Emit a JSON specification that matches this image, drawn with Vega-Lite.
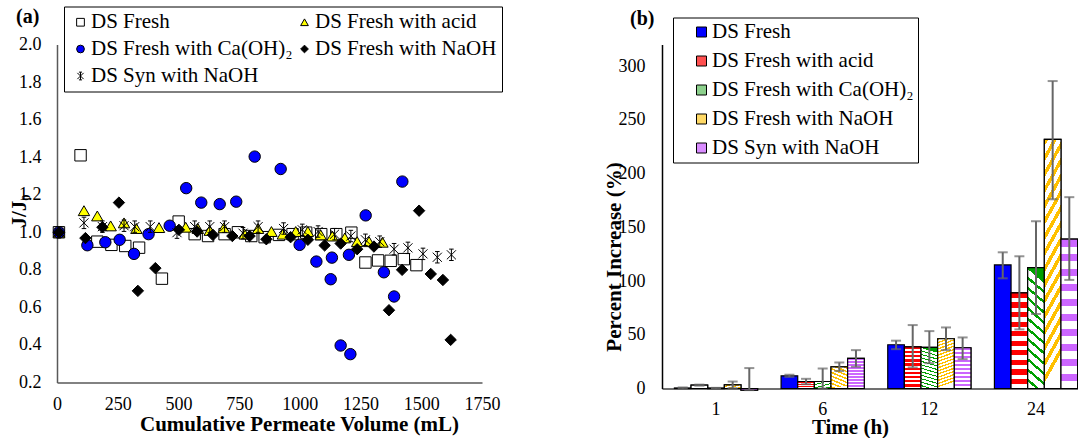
{
  "$schema": "https://vega.github.io/schema/vega-lite/v6.json",
  "background": "white",
  "padding": {"left": 8, "top": 5.5, "right": 0, "bottom": 0},
  "spacing": 100,
  "config": {
    "font": "Liberation Serif",
    "view": {"stroke": null},
    "axis": {"grid": false, "ticks": false, "labelFont": "Liberation Serif", "labelFontSize": 18, "labelColor": "black", "titleFont": "Liberation Serif", "titleFontSize": 21, "titleFontWeight": "bold", "titleColor": "black"},
    "legend": {"labelFont": "Liberation Serif", "labelFontSize": 21, "labelColor": "black", "labelLimit": 500, "strokeColor": "black"}
  },
  "resolve": {"scale": {"x": "independent", "y": "independent", "fill": "independent", "shape": "independent", "stroke": "independent", "xOffset": "independent"}, "legend": {"fill": "independent", "shape": "independent", "stroke": "independent"}},
  "hconcat": [
    {
      "width": 425,
      "height": 338,
      "title": {"text": "(a)", "anchor": "start", "frame": "group", "offset": -21, "dx": -41, "fontSize": 20, "fontWeight": "bold", "font": "Liberation Serif", "color": "black"},
      "data": {"values": [
        {"v": 8, "r": 1.0, "s": "DS Fresh"}, {"v": 97, "r": 1.41, "s": "DS Fresh"}, {"v": 166, "r": 0.95, "s": "DS Fresh"}, {"v": 224, "r": 0.933, "s": "DS Fresh"}, {"v": 281, "r": 0.927, "s": "DS Fresh"}, {"v": 338, "r": 0.918, "s": "DS Fresh"}, {"v": 432, "r": 0.753, "s": "DS Fresh"}, {"v": 501, "r": 1.057, "s": "DS Fresh"}, {"v": 567, "r": 0.99, "s": "DS Fresh"}, {"v": 622, "r": 0.98, "s": "DS Fresh"}, {"v": 690, "r": 0.99, "s": "DS Fresh"}, {"v": 745, "r": 1.0, "s": "DS Fresh"}, {"v": 800, "r": 0.98, "s": "DS Fresh"}, {"v": 855, "r": 0.974, "s": "DS Fresh"}, {"v": 914, "r": 0.986, "s": "DS Fresh"}, {"v": 970, "r": 0.99, "s": "DS Fresh"}, {"v": 1026, "r": 0.998, "s": "DS Fresh"}, {"v": 1088, "r": 0.99, "s": "DS Fresh"}, {"v": 1150, "r": 0.99, "s": "DS Fresh"}, {"v": 1212, "r": 0.998, "s": "DS Fresh"}, {"v": 1270, "r": 0.839, "s": "DS Fresh"}, {"v": 1322, "r": 0.85, "s": "DS Fresh"}, {"v": 1374, "r": 0.848, "s": "DS Fresh"}, {"v": 1428, "r": 0.857, "s": "DS Fresh"}, {"v": 1480, "r": 0.825, "s": "DS Fresh"},
        {"v": 8, "r": 1.0, "s": "DS Fresh with acid"}, {"v": 111, "r": 1.115, "s": "DS Fresh with acid"}, {"v": 166, "r": 1.087, "s": "DS Fresh with acid"}, {"v": 221, "r": 1.034, "s": "DS Fresh with acid"}, {"v": 276, "r": 1.05, "s": "DS Fresh with acid"}, {"v": 327, "r": 1.02, "s": "DS Fresh with acid"}, {"v": 420, "r": 1.025, "s": "DS Fresh with acid"}, {"v": 530, "r": 1.027, "s": "DS Fresh with acid"}, {"v": 580, "r": 1.02, "s": "DS Fresh with acid"}, {"v": 629, "r": 1.01, "s": "DS Fresh with acid"}, {"v": 687, "r": 1.024, "s": "DS Fresh with acid"}, {"v": 773, "r": 0.99, "s": "DS Fresh with acid"}, {"v": 828, "r": 1.02, "s": "DS Fresh with acid"}, {"v": 883, "r": 1.004, "s": "DS Fresh with acid"}, {"v": 930, "r": 0.99, "s": "DS Fresh with acid"}, {"v": 983, "r": 1.004, "s": "DS Fresh with acid"}, {"v": 1033, "r": 1.004, "s": "DS Fresh with acid"}, {"v": 1086, "r": 0.986, "s": "DS Fresh with acid"}, {"v": 1134, "r": 0.98, "s": "DS Fresh with acid"}, {"v": 1185, "r": 0.97, "s": "DS Fresh with acid"}, {"v": 1236, "r": 0.95, "s": "DS Fresh with acid"}, {"v": 1285, "r": 0.95, "s": "DS Fresh with acid"}, {"v": 1340, "r": 0.947, "s": "DS Fresh with acid"},
        {"v": 8, "r": 1.0, "s": "DS Fresh with Ca(OH)₂"}, {"v": 125, "r": 0.931, "s": "DS Fresh with Ca(OH)₂"}, {"v": 199, "r": 0.947, "s": "DS Fresh with Ca(OH)₂"}, {"v": 258, "r": 0.96, "s": "DS Fresh with Ca(OH)₂"}, {"v": 317, "r": 0.885, "s": "DS Fresh with Ca(OH)₂"}, {"v": 377, "r": 0.99, "s": "DS Fresh with Ca(OH)₂"}, {"v": 464, "r": 1.035, "s": "DS Fresh with Ca(OH)₂"}, {"v": 532, "r": 1.235, "s": "DS Fresh with Ca(OH)₂"}, {"v": 594, "r": 1.158, "s": "DS Fresh with Ca(OH)₂"}, {"v": 670, "r": 1.15, "s": "DS Fresh with Ca(OH)₂"}, {"v": 738, "r": 1.163, "s": "DS Fresh with Ca(OH)₂"}, {"v": 814, "r": 1.403, "s": "DS Fresh with Ca(OH)₂"}, {"v": 921, "r": 1.337, "s": "DS Fresh with Ca(OH)₂"}, {"v": 999, "r": 0.933, "s": "DS Fresh with Ca(OH)₂"}, {"v": 1068, "r": 0.844, "s": "DS Fresh with Ca(OH)₂"}, {"v": 1127, "r": 0.75, "s": "DS Fresh with Ca(OH)₂"}, {"v": 1132, "r": 0.865, "s": "DS Fresh with Ca(OH)₂"}, {"v": 1168, "r": 0.397, "s": "DS Fresh with Ca(OH)₂"}, {"v": 1202, "r": 0.88, "s": "DS Fresh with Ca(OH)₂"}, {"v": 1208, "r": 0.351, "s": "DS Fresh with Ca(OH)₂"}, {"v": 1271, "r": 1.09, "s": "DS Fresh with Ca(OH)₂"}, {"v": 1346, "r": 0.787, "s": "DS Fresh with Ca(OH)₂"}, {"v": 1388, "r": 0.658, "s": "DS Fresh with Ca(OH)₂"}, {"v": 1422, "r": 1.27, "s": "DS Fresh with Ca(OH)₂"},
        {"v": 8, "r": 1.0, "s": "DS Fresh with NaOH"}, {"v": 117, "r": 0.969, "s": "DS Fresh with NaOH"}, {"v": 187, "r": 1.027, "s": "DS Fresh with NaOH"}, {"v": 255, "r": 1.158, "s": "DS Fresh with NaOH"}, {"v": 333, "r": 0.688, "s": "DS Fresh with NaOH"}, {"v": 405, "r": 0.809, "s": "DS Fresh with NaOH"}, {"v": 502, "r": 1.013, "s": "DS Fresh with NaOH"}, {"v": 577, "r": 1.004, "s": "DS Fresh with NaOH"}, {"v": 642, "r": 0.986, "s": "DS Fresh with NaOH"}, {"v": 722, "r": 0.98, "s": "DS Fresh with NaOH"}, {"v": 793, "r": 0.98, "s": "DS Fresh with NaOH"}, {"v": 862, "r": 0.963, "s": "DS Fresh with NaOH"}, {"v": 962, "r": 0.974, "s": "DS Fresh with NaOH"}, {"v": 1033, "r": 0.96, "s": "DS Fresh with NaOH"}, {"v": 1102, "r": 0.93, "s": "DS Fresh with NaOH"}, {"v": 1168, "r": 0.94, "s": "DS Fresh with NaOH"}, {"v": 1236, "r": 0.91, "s": "DS Fresh with NaOH"}, {"v": 1305, "r": 0.924, "s": "DS Fresh with NaOH"}, {"v": 1367, "r": 0.585, "s": "DS Fresh with NaOH"}, {"v": 1421, "r": 0.8, "s": "DS Fresh with NaOH"}, {"v": 1491, "r": 1.115, "s": "DS Fresh with NaOH"}, {"v": 1539, "r": 0.778, "s": "DS Fresh with NaOH"}, {"v": 1589, "r": 0.746, "s": "DS Fresh with NaOH"}, {"v": 1621, "r": 0.427, "s": "DS Fresh with NaOH"},
        {"v": 8, "r": 1.0, "s": "DS Syn with NaOH"}, {"v": 111, "r": 1.05, "s": "DS Syn with NaOH"}, {"v": 187, "r": 1.03, "s": "DS Syn with NaOH"}, {"v": 276, "r": 1.035, "s": "DS Syn with NaOH"}, {"v": 320, "r": 1.03, "s": "DS Syn with NaOH"}, {"v": 384, "r": 1.03, "s": "DS Syn with NaOH"}, {"v": 494, "r": 0.998, "s": "DS Syn with NaOH"}, {"v": 567, "r": 1.03, "s": "DS Syn with NaOH"}, {"v": 629, "r": 1.03, "s": "DS Syn with NaOH"}, {"v": 690, "r": 1.03, "s": "DS Syn with NaOH"}, {"v": 766, "r": 0.995, "s": "DS Syn with NaOH"}, {"v": 828, "r": 1.03, "s": "DS Syn with NaOH"}, {"v": 933, "r": 1.02, "s": "DS Syn with NaOH"}, {"v": 1010, "r": 1.013, "s": "DS Syn with NaOH"}, {"v": 1075, "r": 1.004, "s": "DS Syn with NaOH"}, {"v": 1143, "r": 0.99, "s": "DS Syn with NaOH"}, {"v": 1210, "r": 0.98, "s": "DS Syn with NaOH"}, {"v": 1270, "r": 0.96, "s": "DS Syn with NaOH"}, {"v": 1329, "r": 0.95, "s": "DS Syn with NaOH"}, {"v": 1388, "r": 0.91, "s": "DS Syn with NaOH"}, {"v": 1445, "r": 0.917, "s": "DS Syn with NaOH"}, {"v": 1507, "r": 0.885, "s": "DS Syn with NaOH"}, {"v": 1566, "r": 0.867, "s": "DS Syn with NaOH"}, {"v": 1624, "r": 0.88, "s": "DS Syn with NaOH"}
      ]},
      "mark": {"type": "point", "filled": false, "strokeWidth": 1, "size": 130, "opacity": 1},
      "encoding": {
        "x": {"field": "v", "type": "quantitative", "scale": {"domain": [0, 1750], "nice": false, "zero": false},
              "axis": {"values": [0, 250, 500, 750, 1000, 1250, 1500, 1750], "format": "d", "labelOverlap": false, "labelFlush": false, "title": "Cumulative Permeate Volume (mL)", "labelPadding": 12.5, "domainColor": "#595959", "domainWidth": 1.5, "titleX": 242, "titleY": 48, "titleBaseline": "alphabetic"}},
        "y": {"field": "r", "type": "quantitative", "scale": {"domain": [0.2, 2.0], "nice": false, "zero": false},
              "axis": {"values": [0.2, 0.4, 0.6, 0.8, 1.0, 1.2, 1.4, 1.6, 1.8, 2.0], "format": ".1f", "labelOverlap": false, "labelFlush": false, "title": "J/J₀", "labelPadding": 16, "domainColor": "#595959", "domainWidth": 1.5, "titleX": -32, "titleY": 166, "titleBaseline": "alphabetic"}},
        "fill": {"field": "s", "type": "nominal",
                 "scale": {"domain": ["DS Fresh", "DS Fresh with acid", "DS Fresh with Ca(OH)₂", "DS Fresh with NaOH", "DS Syn with NaOH"], "range": ["#FFFFFF", "#FFFF00", "#0000FF", "#000000", "#000000"]},
                 "legend": null},
        "stroke": {"field": "s", "type": "nominal",
                   "scale": {"domain": ["DS Fresh", "DS Fresh with acid", "DS Fresh with Ca(OH)₂", "DS Fresh with NaOH", "DS Syn with NaOH"], "range": ["#000000", "#000000", "#000000", "#000000", "#000000"]},
                   "legend": null},
        "shape": {"field": "s", "type": "nominal",
                  "scale": {"domain": ["DS Fresh", "DS Fresh with acid", "DS Fresh with Ca(OH)₂", "DS Fresh with NaOH", "DS Syn with NaOH"], "range": ["square", "triangle-up", "circle", "diamond", "M-0.8,-0.8L0.8,0.8M-0.8,0.8L0.8,-0.8M0,-1L0,1M-0.4,-1L0.4,-1M-0.4,1L0.4,1"]},
                  "legend": {"title": null, "orient": "none", "legendX": 7, "legendY": -38, "columns": 2, "direction": "horizontal", "columnPadding": 0, "rowPadding": 5, "padding": 5, "symbolOffset": 1, "labelOffset": 0, "symbolSize": 60, "symbolStrokeColor": "black", "symbolStrokeWidth": 1, "labelFont": "Liberation Serif", "labelFontSize": 21, "strokeColor": "black",
                             "encode": {"symbols": {"stroke": {"value": "black"}, "strokeWidth": {"value": 1}}}}}
      }
    },
    {
      "width": 416,
      "height": 344,
      "title": {"text": "(b)", "anchor": "start", "frame": "group", "offset": -12, "dx": -32, "fontSize": 20, "fontWeight": "bold", "font": "Liberation Serif", "color": "black"},
      "data": {"values": [
        {"t": "1", "s": "DS Fresh", "p": 0.5, "lo": 0, "hi": 1},
        {"t": "1", "s": "DS Fresh with acid", "p": 3.1, "lo": 2.6, "hi": 3.6},
        {"t": "1", "s": "DS Fresh with Ca(OH)₂", "p": 0.3, "lo": 0, "hi": 0.6},
        {"t": "1", "s": "DS Fresh with NaOH", "p": 3.4, "lo": 0.3, "hi": 6.5},
        {"t": "1", "s": "DS Syn with NaOH", "p": -1.5, "lo": -1.5, "hi": 19},
        {"t": "6", "s": "DS Fresh", "p": 11.8, "lo": 10.8, "hi": 12.8},
        {"t": "6", "s": "DS Fresh with acid", "p": 6.5, "lo": 4, "hi": 9},
        {"t": "6", "s": "DS Fresh with Ca(OH)₂", "p": 6.5, "lo": 0, "hi": 18.6},
        {"t": "6", "s": "DS Fresh with NaOH", "p": 20.2, "lo": 16.2, "hi": 24.2},
        {"t": "6", "s": "DS Syn with NaOH", "p": 28, "lo": 20.2, "hi": 35.7},
        {"t": "12", "s": "DS Fresh", "p": 40.7, "lo": 36.6, "hi": 44.5},
        {"t": "12", "s": "DS Fresh with acid", "p": 38.8, "lo": 19.6, "hi": 59},
        {"t": "12", "s": "DS Fresh with Ca(OH)₂", "p": 38.2, "lo": 23.6, "hi": 53.4},
        {"t": "12", "s": "DS Fresh with NaOH", "p": 46.3, "lo": 35.7, "hi": 56.8},
        {"t": "12", "s": "DS Syn with NaOH", "p": 37.9, "lo": 27.3, "hi": 47.5},
        {"t": "24", "s": "DS Fresh", "p": 115, "lo": 102.5, "hi": 126.7},
        {"t": "24", "s": "DS Fresh with acid", "p": 89, "lo": 55, "hi": 123},
        {"t": "24", "s": "DS Fresh with Ca(OH)₂", "p": 112.4, "lo": 69.3, "hi": 155.6},
        {"t": "24", "s": "DS Fresh with NaOH", "p": 231.7, "lo": 176, "hi": 286},
        {"t": "24", "s": "DS Syn with NaOH", "p": 139, "lo": 101, "hi": 178}
      ]},
      "encoding": {
        "x": {"field": "t", "type": "ordinal", "sort": ["1", "6", "12", "24"],
              "scale": {"paddingInner": 0.22, "paddingOuter": 0.06, "align": 0.97},
              "axis": {"title": "Time (h)", "labelAngle": 0, "labelPadding": 12, "domainColor": "#404040", "domainWidth": 1.5, "titleX": 188, "titleY": 44.5, "titleBaseline": "alphabetic"}},
        "xOffset": {"field": "s", "type": "nominal", "scale": {"domain": ["DS Fresh", "DS Fresh with acid", "DS Fresh with Ca(OH)₂", "DS Fresh with NaOH", "DS Syn with NaOH"]}},
        "y": {"field": "p", "type": "quantitative", "scale": {"domain": [0, 320], "nice": false},
              "axis": {"values": [0, 50, 100, 150, 200, 250, 300], "title": "Percent Increase (%)", "labelPadding": 17, "domainColor": "black", "domainWidth": 1.5, "titleX": -42, "titleY": 212, "titleBaseline": "alphabetic"}}
      },
      "layer": [
        {
          "mark": {"type": "bar", "stroke": "black", "strokeWidth": 1.2},
          "encoding": {
            "fill": {"field": "s", "type": "nominal",
                     "scale": {"domain": ["DS Fresh", "DS Fresh with acid", "DS Fresh with Ca(OH)₂", "DS Fresh with NaOH", "DS Syn with NaOH"],
                               "range": ["#0000FF", "#FF5050", "#8CD08C", "#FFD966", "#D98CFF"]},
                     "legend": {"title": null, "orient": "none", "legendX": 11, "legendY": -27, "symbolType": "square", "symbolSize": 100, "symbolStrokeColor": "black", "symbolStrokeWidth": 1, "padding": 4, "symbolOffset": 14, "labelOffset": 0, "rowPadding": 7, "labelFont": "Liberation Serif", "labelFontSize": 21, "strokeColor": "black"}}
          }
        },
        {
          "transform": [{"filter": "datum.s === 'DS Fresh with acid'"}],
          "mark": {"type": "bar", "stroke": "black", "strokeWidth": 1.2,
                   "fill": {"gradient": "linear", "x1": 0, "y1": 0, "x2": 0, "y2": 1, "stops": [
                     {"offset": 0, "color": "#FF0000"}, {"offset": 0.055, "color": "#FF0000"}, {"offset": 0.055, "color": "#FFFFFF"}, {"offset": 0.1, "color": "#FFFFFF"},
                     {"offset": 0.1, "color": "#FF0000"}, {"offset": 0.155, "color": "#FF0000"}, {"offset": 0.155, "color": "#FFFFFF"}, {"offset": 0.2, "color": "#FFFFFF"},
                     {"offset": 0.2, "color": "#FF0000"}, {"offset": 0.255, "color": "#FF0000"}, {"offset": 0.255, "color": "#FFFFFF"}, {"offset": 0.3, "color": "#FFFFFF"},
                     {"offset": 0.3, "color": "#FF0000"}, {"offset": 0.355, "color": "#FF0000"}, {"offset": 0.355, "color": "#FFFFFF"}, {"offset": 0.4, "color": "#FFFFFF"},
                     {"offset": 0.4, "color": "#FF0000"}, {"offset": 0.455, "color": "#FF0000"}, {"offset": 0.455, "color": "#FFFFFF"}, {"offset": 0.5, "color": "#FFFFFF"},
                     {"offset": 0.5, "color": "#FF0000"}, {"offset": 0.555, "color": "#FF0000"}, {"offset": 0.555, "color": "#FFFFFF"}, {"offset": 0.6, "color": "#FFFFFF"},
                     {"offset": 0.6, "color": "#FF0000"}, {"offset": 0.655, "color": "#FF0000"}, {"offset": 0.655, "color": "#FFFFFF"}, {"offset": 0.7, "color": "#FFFFFF"},
                     {"offset": 0.7, "color": "#FF0000"}, {"offset": 0.755, "color": "#FF0000"}, {"offset": 0.755, "color": "#FFFFFF"}, {"offset": 0.8, "color": "#FFFFFF"},
                     {"offset": 0.8, "color": "#FF0000"}, {"offset": 0.855, "color": "#FF0000"}, {"offset": 0.855, "color": "#FFFFFF"}, {"offset": 0.9, "color": "#FFFFFF"},
                     {"offset": 0.9, "color": "#FF0000"}, {"offset": 0.955, "color": "#FF0000"}, {"offset": 0.955, "color": "#FFFFFF"}, {"offset": 1, "color": "#FFFFFF"}
                   ]}},
          "encoding": {}
        },
        {
          "transform": [{"filter": "datum.s === 'DS Fresh with Ca(OH)₂'"}],
          "mark": {"type": "bar", "stroke": "black", "strokeWidth": 1.2,
                   "fill": {"gradient": "linear", "x1": 0.12, "y1": 0, "x2": 0, "y2": 1, "stops": [
                     {"offset": 0, "color": "#00A000"}, {"offset": 0.025, "color": "#00A000"}, {"offset": 0.025, "color": "#FFFFFF"}, {"offset": 0.0833, "color": "#FFFFFF"},
                     {"offset": 0.0833, "color": "#00A000"}, {"offset": 0.1083, "color": "#00A000"}, {"offset": 0.1083, "color": "#FFFFFF"}, {"offset": 0.1667, "color": "#FFFFFF"},
                     {"offset": 0.1667, "color": "#00A000"}, {"offset": 0.1917, "color": "#00A000"}, {"offset": 0.1917, "color": "#FFFFFF"}, {"offset": 0.25, "color": "#FFFFFF"},
                     {"offset": 0.25, "color": "#00A000"}, {"offset": 0.275, "color": "#00A000"}, {"offset": 0.275, "color": "#FFFFFF"}, {"offset": 0.3333, "color": "#FFFFFF"},
                     {"offset": 0.3333, "color": "#00A000"}, {"offset": 0.3583, "color": "#00A000"}, {"offset": 0.3583, "color": "#FFFFFF"}, {"offset": 0.4167, "color": "#FFFFFF"},
                     {"offset": 0.4167, "color": "#00A000"}, {"offset": 0.4417, "color": "#00A000"}, {"offset": 0.4417, "color": "#FFFFFF"}, {"offset": 0.5, "color": "#FFFFFF"},
                     {"offset": 0.5, "color": "#00A000"}, {"offset": 0.525, "color": "#00A000"}, {"offset": 0.525, "color": "#FFFFFF"}, {"offset": 0.5833, "color": "#FFFFFF"},
                     {"offset": 0.5833, "color": "#00A000"}, {"offset": 0.6083, "color": "#00A000"}, {"offset": 0.6083, "color": "#FFFFFF"}, {"offset": 0.6667, "color": "#FFFFFF"},
                     {"offset": 0.6667, "color": "#00A000"}, {"offset": 0.6917, "color": "#00A000"}, {"offset": 0.6917, "color": "#FFFFFF"}, {"offset": 0.75, "color": "#FFFFFF"},
                     {"offset": 0.75, "color": "#00A000"}, {"offset": 0.775, "color": "#00A000"}, {"offset": 0.775, "color": "#FFFFFF"}, {"offset": 0.8333, "color": "#FFFFFF"},
                     {"offset": 0.8333, "color": "#00A000"}, {"offset": 0.8583, "color": "#00A000"}, {"offset": 0.8583, "color": "#FFFFFF"}, {"offset": 0.9167, "color": "#FFFFFF"},
                     {"offset": 0.9167, "color": "#00A000"}, {"offset": 0.9417, "color": "#00A000"}, {"offset": 0.9417, "color": "#FFFFFF"}, {"offset": 1, "color": "#FFFFFF"}
                   ]}},
          "encoding": {}
        },
        {
          "transform": [{"filter": "datum.s === 'DS Fresh with NaOH'"}],
          "mark": {"type": "bar", "stroke": "black", "strokeWidth": 1.2,
                   "fill": {"gradient": "linear", "x1": 0, "y1": 0, "x2": 0.12, "y2": 1, "stops": [
                     {"offset": 0, "color": "#FFC000"}, {"offset": 0.028, "color": "#FFC000"}, {"offset": 0.028, "color": "#FFFFFF"}, {"offset": 0.0625, "color": "#FFFFFF"},
                     {"offset": 0.0625, "color": "#FFC000"}, {"offset": 0.0905, "color": "#FFC000"}, {"offset": 0.0905, "color": "#FFFFFF"}, {"offset": 0.125, "color": "#FFFFFF"},
                     {"offset": 0.125, "color": "#FFC000"}, {"offset": 0.153, "color": "#FFC000"}, {"offset": 0.153, "color": "#FFFFFF"}, {"offset": 0.1875, "color": "#FFFFFF"},
                     {"offset": 0.1875, "color": "#FFC000"}, {"offset": 0.2155, "color": "#FFC000"}, {"offset": 0.2155, "color": "#FFFFFF"}, {"offset": 0.25, "color": "#FFFFFF"},
                     {"offset": 0.25, "color": "#FFC000"}, {"offset": 0.278, "color": "#FFC000"}, {"offset": 0.278, "color": "#FFFFFF"}, {"offset": 0.3125, "color": "#FFFFFF"},
                     {"offset": 0.3125, "color": "#FFC000"}, {"offset": 0.3405, "color": "#FFC000"}, {"offset": 0.3405, "color": "#FFFFFF"}, {"offset": 0.375, "color": "#FFFFFF"},
                     {"offset": 0.375, "color": "#FFC000"}, {"offset": 0.403, "color": "#FFC000"}, {"offset": 0.403, "color": "#FFFFFF"}, {"offset": 0.4375, "color": "#FFFFFF"},
                     {"offset": 0.4375, "color": "#FFC000"}, {"offset": 0.4655, "color": "#FFC000"}, {"offset": 0.4655, "color": "#FFFFFF"}, {"offset": 0.5, "color": "#FFFFFF"},
                     {"offset": 0.5, "color": "#FFC000"}, {"offset": 0.528, "color": "#FFC000"}, {"offset": 0.528, "color": "#FFFFFF"}, {"offset": 0.5625, "color": "#FFFFFF"},
                     {"offset": 0.5625, "color": "#FFC000"}, {"offset": 0.5905, "color": "#FFC000"}, {"offset": 0.5905, "color": "#FFFFFF"}, {"offset": 0.625, "color": "#FFFFFF"},
                     {"offset": 0.625, "color": "#FFC000"}, {"offset": 0.653, "color": "#FFC000"}, {"offset": 0.653, "color": "#FFFFFF"}, {"offset": 0.6875, "color": "#FFFFFF"},
                     {"offset": 0.6875, "color": "#FFC000"}, {"offset": 0.7155, "color": "#FFC000"}, {"offset": 0.7155, "color": "#FFFFFF"}, {"offset": 0.75, "color": "#FFFFFF"},
                     {"offset": 0.75, "color": "#FFC000"}, {"offset": 0.778, "color": "#FFC000"}, {"offset": 0.778, "color": "#FFFFFF"}, {"offset": 0.8125, "color": "#FFFFFF"},
                     {"offset": 0.8125, "color": "#FFC000"}, {"offset": 0.8405, "color": "#FFC000"}, {"offset": 0.8405, "color": "#FFFFFF"}, {"offset": 0.875, "color": "#FFFFFF"},
                     {"offset": 0.875, "color": "#FFC000"}, {"offset": 0.903, "color": "#FFC000"}, {"offset": 0.903, "color": "#FFFFFF"}, {"offset": 0.9375, "color": "#FFFFFF"},
                     {"offset": 0.9375, "color": "#FFC000"}, {"offset": 0.9655, "color": "#FFC000"}, {"offset": 0.9655, "color": "#FFFFFF"}, {"offset": 1, "color": "#FFFFFF"}
                   ]}},
          "encoding": {}
        },
        {
          "transform": [{"filter": "datum.s === 'DS Syn with NaOH'"}],
          "mark": {"type": "bar", "stroke": "black", "strokeWidth": 1.2,
                   "fill": {"gradient": "linear", "x1": 0, "y1": 0, "x2": 0, "y2": 1, "stops": [
                     {"offset": 0, "color": "#CC66FF"}, {"offset": 0.05, "color": "#CC66FF"}, {"offset": 0.05, "color": "#FFFFFF"}, {"offset": 0.1, "color": "#FFFFFF"},
                     {"offset": 0.1, "color": "#CC66FF"}, {"offset": 0.15, "color": "#CC66FF"}, {"offset": 0.15, "color": "#FFFFFF"}, {"offset": 0.2, "color": "#FFFFFF"},
                     {"offset": 0.2, "color": "#CC66FF"}, {"offset": 0.25, "color": "#CC66FF"}, {"offset": 0.25, "color": "#FFFFFF"}, {"offset": 0.3, "color": "#FFFFFF"},
                     {"offset": 0.3, "color": "#CC66FF"}, {"offset": 0.35, "color": "#CC66FF"}, {"offset": 0.35, "color": "#FFFFFF"}, {"offset": 0.4, "color": "#FFFFFF"},
                     {"offset": 0.4, "color": "#CC66FF"}, {"offset": 0.45, "color": "#CC66FF"}, {"offset": 0.45, "color": "#FFFFFF"}, {"offset": 0.5, "color": "#FFFFFF"},
                     {"offset": 0.5, "color": "#CC66FF"}, {"offset": 0.55, "color": "#CC66FF"}, {"offset": 0.55, "color": "#FFFFFF"}, {"offset": 0.6, "color": "#FFFFFF"},
                     {"offset": 0.6, "color": "#CC66FF"}, {"offset": 0.65, "color": "#CC66FF"}, {"offset": 0.65, "color": "#FFFFFF"}, {"offset": 0.7, "color": "#FFFFFF"},
                     {"offset": 0.7, "color": "#CC66FF"}, {"offset": 0.75, "color": "#CC66FF"}, {"offset": 0.75, "color": "#FFFFFF"}, {"offset": 0.8, "color": "#FFFFFF"},
                     {"offset": 0.8, "color": "#CC66FF"}, {"offset": 0.85, "color": "#CC66FF"}, {"offset": 0.85, "color": "#FFFFFF"}, {"offset": 0.9, "color": "#FFFFFF"},
                     {"offset": 0.9, "color": "#CC66FF"}, {"offset": 0.95, "color": "#CC66FF"}, {"offset": 0.95, "color": "#FFFFFF"}, {"offset": 1, "color": "#FFFFFF"}
                   ]}},
          "encoding": {}
        },
        {
          "mark": {"type": "rule", "color": "#666666", "strokeWidth": 2},
          "encoding": {"y": {"field": "lo", "type": "quantitative"}, "y2": {"field": "hi"}}
        },
        {
          "mark": {"type": "tick", "orient": "horizontal", "color": "#666666", "thickness": 2, "size": 10},
          "encoding": {"y": {"field": "hi", "type": "quantitative"}}
        },
        {
          "mark": {"type": "tick", "orient": "horizontal", "color": "#666666", "thickness": 2, "size": 10},
          "encoding": {"y": {"field": "lo", "type": "quantitative"}}
        }
      ]
    }
  ]
}
